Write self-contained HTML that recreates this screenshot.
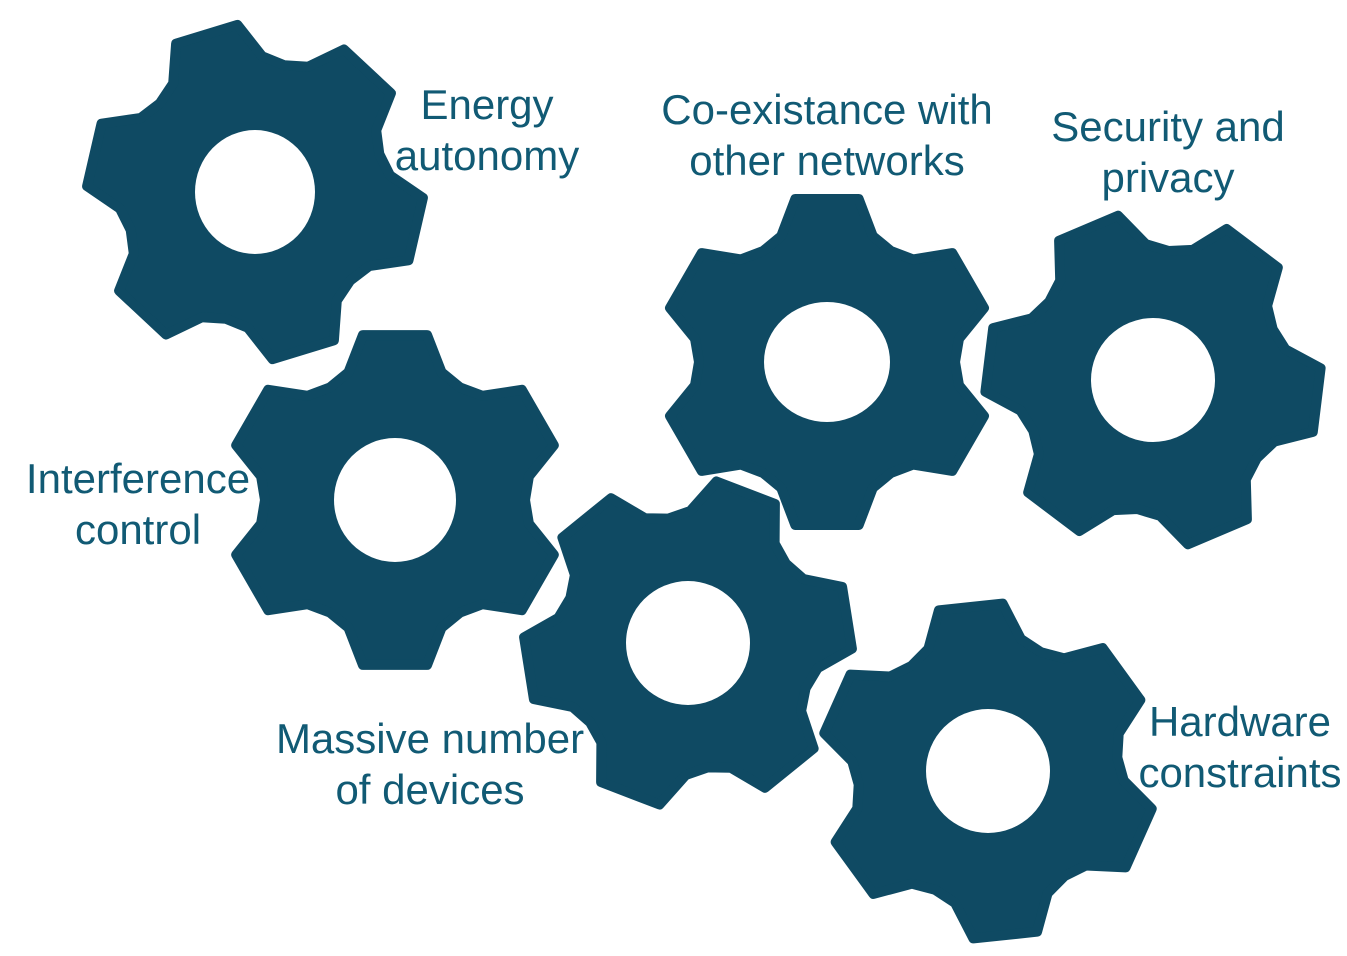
<!DOCTYPE html>
<html><head><meta charset="utf-8"><style>
html,body{margin:0;padding:0;background:#fff;width:1347px;height:956px;overflow:hidden}
svg{position:absolute;left:0;top:0}
.t{position:absolute;font-family:"Liberation Sans",sans-serif;font-size:42px;line-height:51px;color:#115a74;text-align:center;white-space:nowrap;transform:translateX(-50%)}
</style></head><body>
<svg id="s" width="1347" height="956" viewBox="0 0 1347 956"></svg>
<div class="t" style="left:487px;top:79px">Energy<br>autonomy</div>
<div class="t" style="left:827px;top:84px">Co-existance with<br>other networks</div>
<div class="t" style="left:1168px;top:101px">Security and<br>privacy</div>
<div class="t" style="left:138px;top:453px">Interference<br>control</div>
<div class="t" style="left:430px;top:713px">Massive number<br>of devices</div>
<div class="t" style="left:1240px;top:696px">Hardware<br>constraints</div>
<script>
var gears=[[255,192,193,60,62,168],[395,500,270,61,62,168],[827,362,270,63,60,166],[1153,380,187,62,62,168],[688,643,171,62,62,164],[988,771,264,62,62,168]];
var ta=11,ba=20,s='';
function p(cx,cy,a,rad){a=a*Math.PI/180;return (cx+rad*Math.cos(a)).toFixed(1)+','+(cy+rad*Math.sin(a)).toFixed(1);}
gears.forEach(function(g){
 var R=g[5],r=R-32,d='M';
 for(var i=0;i<6;i++){
  var c=g[2]+i*60;
  d+=p(g[0],g[1],c-ba,r)+' L'+p(g[0],g[1],c-ta,R)+' L'+p(g[0],g[1],c+ta,R)+' L'+p(g[0],g[1],c+ba,r)+' L'+p(g[0],g[1],c+30,r-6)+' L';
 }
 d=d.replace(/ L$/,'Z');
 s+='<path d="'+d+'" fill="#0f4a63" stroke="#0f4a63" stroke-width="10" stroke-linejoin="round"/>';
 s+='<ellipse cx="'+g[0]+'" cy="'+g[1]+'" rx="'+g[3]+'" ry="'+g[4]+'" fill="#fff"/>';
});
document.getElementById('s').innerHTML=s;
</script>
</body></html>
